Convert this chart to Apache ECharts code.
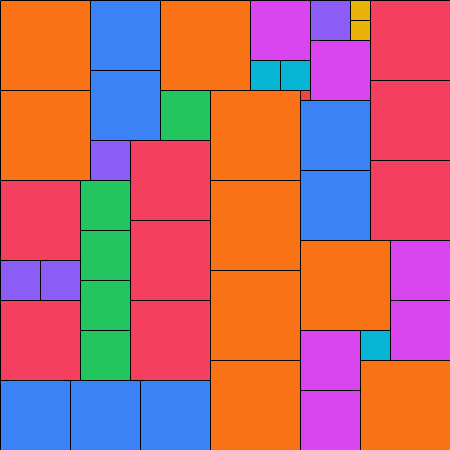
<!DOCTYPE html>
<html>
<head>
<meta charset="utf-8">
<script src="https://cdn.jsdelivr.net/npm/echarts@6/dist/echarts.min.js"></script>
<style>html,body{margin:0;padding:0;background:#fff}#c{width:450px;height:450px}</style>
</head>
<body>
<div id="c"></div>
<script>
// Square tiles: left x, top y, side length (grid units of the 450 x 450 board)
var tileX = [0, 90, 160, 250, 310, 350, 350, 370, 250, 280, 310, 0, 90, 160, 210, 300, 370, 300, 90, 130, 370, 0, 80, 210, 300, 130, 80, 300, 390, 0, 40, 210, 80, 130, 0, 390, 80, 300, 360, 210, 360, 0, 70, 140, 300];
var tileY = [0, 0, 0, 0, 0, 0, 20, 0, 60, 60, 40, 90, 70, 90, 90, 90, 80, 100, 140, 140, 160, 180, 180, 180, 170, 220, 230, 240, 240, 260, 260, 270, 280, 300, 300, 300, 330, 330, 330, 360, 360, 380, 380, 380, 390];
var tileSize = [90, 70, 90, 60, 40, 20, 20, 80, 30, 30, 60, 90, 70, 50, 90, 10, 80, 70, 40, 80, 80, 80, 50, 90, 70, 80, 50, 90, 60, 40, 40, 90, 50, 80, 80, 60, 50, 60, 30, 90, 90, 70, 70, 70, 60];
var boardSize = 450;

var sizeColors = {
  90: '#f97316', 80: '#f43f5e', 70: '#3b82f6', 60: '#d946ef',
  50: '#22c55e', 40: '#8b5cf6', 30: '#06b6d4', 20: '#eab308', 10: '#ef4444'
};

var data = tileX.map(function (x, i) { return [x, tileY[i], tileSize[i]]; });

var chart = echarts.init(document.getElementById('c'), null, {renderer: 'canvas'});
chart.setOption({
  animation: false,
  grid: {left: 0, right: 0, top: 0, bottom: 0},
  xAxis: {type: 'value', min: 0, max: boardSize, show: false},
  yAxis: {type: 'value', min: 0, max: boardSize, inverse: true, show: false},
  series: [{
    type: 'custom',
    data: data,
    encode: {x: 0, y: 1},
    clip: false,
    renderItem: function (params, api) {
      var x = api.value(0), y = api.value(1), s = api.value(2);
      var p0 = api.coord([x, y]);
      var p1 = api.coord([x + s, y + s]);
      return {
        type: 'rect',
        shape: {x: p0[0] + 0.5, y: p0[1] + 0.5, width: p1[0] - p0[0], height: p1[1] - p0[1]},
        style: {fill: sizeColors[s], stroke: '#000', lineWidth: 1}
      };
    }
  }]
});
</script>
</body>
</html>
